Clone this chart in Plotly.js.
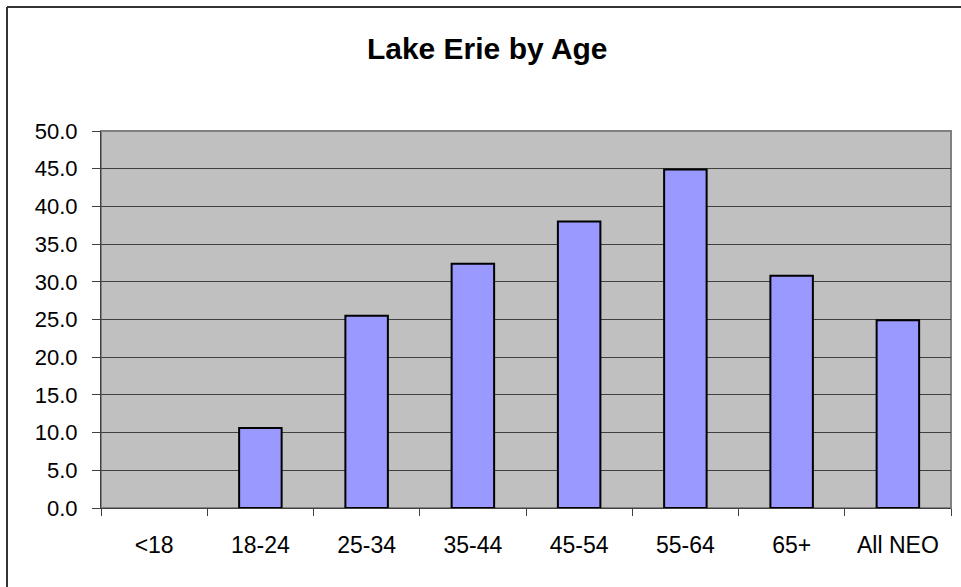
<!DOCTYPE html>
<html>
<head>
<meta charset="utf-8">
<script src="https://cdn.plot.ly/plotly-3.0.1.min.js"></script>
<style>
html,body{margin:0;padding:0;background:#fff;}
#chart{width:961px;height:587px;}
</style>
</head>
<body>
<div id="chart"></div>
<script>
const categories = ["<18", "18-24", "25-34", "35-44", "45-54", "55-64", "65+", "All NEO"];
const values = [null, 10.6, 25.5, 32.4, 38.0, 44.9, 30.8, 24.9];
const yTicks = [0, 5, 10, 15, 20, 25, 30, 35, 40, 45, 50];
const yTickLabels = yTicks.map(v => v.toFixed(1));

const trace = {
  type: "bar",
  x: categories,
  y: values,
  width: 0.4,
  marker: {color: "#9999FF", line: {color: "#000000", width: 2}},
  hoverinfo: "x+y"
};

const layout = {
  width: 961, height: 587,
  margin: {l: 101, r: 10, t: 131, b: 79},
  paper_bgcolor: "#ffffff",
  plot_bgcolor: "#C0C0C0",
  showlegend: false,
  font: {family: "Liberation Sans, Arial, sans-serif", size: 22, color: "#000"},
  title: {text: "<b>Lake Erie by Age</b>", xref: "container", x: 0.507, xanchor: "center",
          yref: "container", y: 1 - 48/587, yanchor: "middle",
          font: {size: 30, family: "Liberation Sans, Arial, sans-serif", color: "#000"}},
  xaxis: {
    type: "category",
    tickson: "boundaries",
    ticks: "outside", ticklen: 7, tickcolor: "#404040", tickwidth: 1,
    ticklabelstandoff: 16,
    showline: true, linecolor: "#404040", linewidth: 1,
    showgrid: false, zeroline: false,
    tickfont: {size: 23}
  },
  yaxis: {
    range: [0, 50],
    tickvals: yTicks, ticktext: yTickLabels,
    ticks: "outside", ticklen: 8, tickcolor: "#404040", tickwidth: 1,
    ticklabelstandoff: 10,
    showline: true, linecolor: "#404040", linewidth: 1,
    showgrid: true, gridcolor: "#404040", gridwidth: 1,
    zeroline: false,
    tickfont: {size: 22}
  },
  shapes: [
    {type: "rect", xref: "paper", yref: "paper", x0: 0, x1: 1, y0: 0, y1: 1,
     line: {color: "#808080", width: 2}, layer: "below"},
    {type: "line", xref: "paper", yref: "paper", x0: -94/850, x1: -94/850, y0: -0.3, y1: 501/377,
     line: {color: "#333333", width: 2}},
    {type: "line", xref: "paper", yref: "paper", x0: -94/850, x1: 1.2, y0: 501/377, y1: 501/377,
     line: {color: "#333333", width: 2}}
  ]
};

Plotly.newPlot("chart", [trace], layout, {displayModeBar: false, staticPlot: true});
</script>
</body>
</html>
